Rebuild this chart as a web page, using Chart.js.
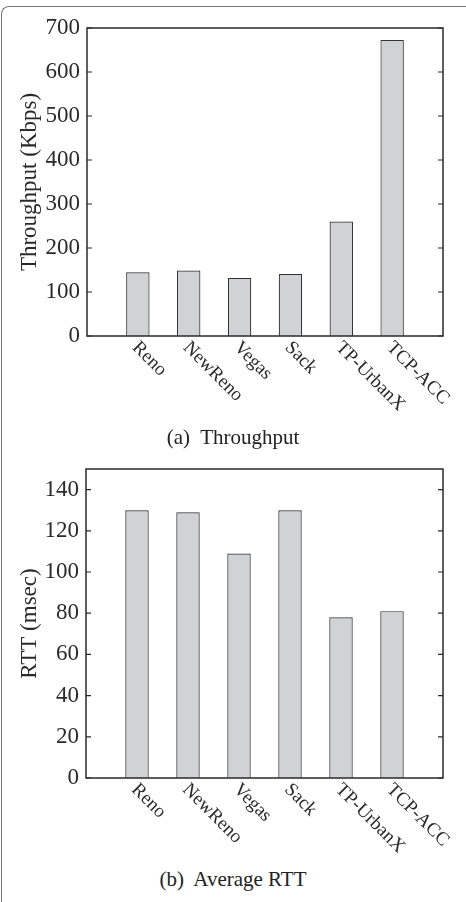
<!DOCTYPE html>
<html>
<head>
<meta charset="utf-8">
<script src="https://cdn.jsdelivr.net/npm/chart.js@4"></script>
<style>
  html, body { margin: 0; padding: 0; background: #fff; overflow: hidden; }
  body { width: 466px; height: 902px; position: relative; font-family: "Liberation Serif", "DejaVu Serif", serif; }
  #frame { position: absolute; left: 1px; top: 6px; width: 464px; height: 920px;
    border-top: 1.5px solid #777; border-left: 1.5px solid #777; border-top-left-radius: 8px; }
  .box { position: absolute; left: 0; width: 466px; }
  .cap { position: absolute; left: 0; width: 466px; text-align: center; font-size: 21px; color: #222; }
</style>
</head>
<body>
<div id="frame"></div>
<div class="box" style="top:0;height:420px"><canvas id="c1" width="466" height="420"></canvas></div>
<div class="box" style="top:440px;height:420px"><canvas id="c2" width="466" height="420"></canvas></div>
<div class="cap" style="top:425px">(a)&nbsp; Throughput</div>
<div class="cap" style="top:867px">(b)&nbsp; Average RTT</div>
<script>
const protocols = ['Reno', 'NewReno', 'Vegas', 'Sack', 'TP-UrbanX', 'TCP-ACC'];
const throughput = [145, 149, 132, 141, 260, 673];
const rtt = [130, 129, 109, 130, 78, 81];
const throughputTicks = [0, 100, 200, 300, 400, 500, 600, 700];
const rttTicks = [0, 20, 40, 60, 80, 100, 120, 140];

const serif = 'Liberation Serif';
const ink = '#2a2a2a';

// caja del grafico, ticks hacia adentro y etiquetas giradas
const framePlugin = {
  id: 'frame',
  afterDraw(chart) {
    const ctx = chart.ctx;
    const a = chart.chartArea;
    const y = chart.scales.y;
    const x = chart.scales.x;
    ctx.save();
    ctx.strokeStyle = ink;
    ctx.lineWidth = 1.5;
    ctx.strokeRect(a.left, a.top, a.right - a.left, a.bottom - a.top);
    ctx.lineWidth = 1.2;
    y.ticks.forEach(t => {
      const py = y.getPixelForValue(t.value);
      ctx.beginPath();
      ctx.moveTo(a.left, py); ctx.lineTo(a.left + 5, py);
      ctx.moveTo(a.right, py); ctx.lineTo(a.right - 5, py);
      ctx.stroke();
    });
    ctx.fillStyle = ink;
    ctx.font = '19px "' + serif + '"';
    ctx.textAlign = 'left';
    ctx.textBaseline = 'top';
    chart.data.labels.forEach((lab, i) => {
      if (!lab) return;
      const px = x.getPixelForValue(i);
      ctx.save();
      ctx.translate(px + 4, a.bottom + 2);
      ctx.rotate(Math.PI / 4);
      ctx.fillText(lab, 0, 0);
      ctx.restore();
    });
    ctx.restore();
  }
};

function makeChart(id, values, yMax, tickVals, title, yWidth, topPad, xHeight) {
  return new Chart(document.getElementById(id), {
    type: 'bar',
    data: {
      labels: ['', ...protocols, ''],
      datasets: [{
        data: [null, ...values, null],
        backgroundColor: '#d0d2d4',
        borderColor: '#333',
        borderWidth: 1.2,
        categoryPercentage: 1,
        barPercentage: 0.46,
      }],
    },
    options: {
      responsive: false,
      animation: false,
      layout: { padding: { top: topPad, right: 23, left: 0, bottom: 0 } },
      plugins: { legend: { display: false }, tooltip: { enabled: false } },
      scales: {
        x: {
          offset: false,
          grid: { display: false, drawTicks: false },
          border: { display: false },
          ticks: { display: false },
          afterFit: s => { s.height = xHeight; },
        },
        y: {
          min: 0,
          max: yMax,
          grid: { display: false, drawTicks: false },
          border: { display: false },
          afterBuildTicks: s => { s.ticks = tickVals.map(v => ({ value: v })); },
          ticks: {
            padding: 7,
            color: ink,
            font: { family: serif, size: 23 },
          },
          title: {
            display: true,
            text: title,
            color: ink,
            font: { family: serif, size: 23 },
            padding: { top: 16, bottom: 0 },
          },
          afterFit: s => { s.width = yWidth; },
        },
      },
    },
    plugins: [framePlugin],
  });
}

makeChart('c1', throughput, 700, throughputTicks, 'Throughput (Kbps)', 87, 28, 84);
makeChart('c2', rtt, 150, rttTicks, 'RTT (msec)', 86, 29, 82);
</script>
</body>
</html>
